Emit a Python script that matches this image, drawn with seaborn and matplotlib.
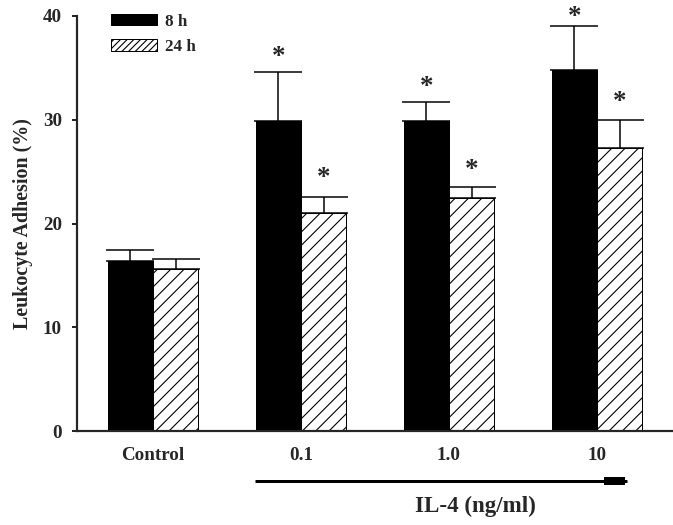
import numpy as np
import pandas as pd
import seaborn as sns
import matplotlib.pyplot as plt
from matplotlib.patches import Patch

# values
doses = ["Control", "0.1", "1.0", "10"]
times = ["8 h", "24 h"]
mean_8h = [16.4, 29.9, 29.9, 34.8]
sem_8h = [1.0, 4.7, 1.8, 4.2]
mean_24h = [15.6, 21.0, 22.5, 27.3]
sem_24h = [1.0, 1.6, 1.0, 2.7]
star_8h = [False, True, True, True]
star_24h = [False, True, True, True]

DPI = 80
PT = 72 / DPI  # px -> pt

df = pd.DataFrame({
    "dose": doses * 2,
    "time": ["8 h"] * 4 + ["24 h"] * 4,
    "value": mean_8h + mean_24h,
})

sns.set_theme(style="ticks")
plt.rcParams["font.family"] = ["Liberation Serif", "DejaVu Serif"]
plt.rcParams["hatch.linewidth"] = 1.0

fig = plt.figure(figsize=(673 / DPI, 525 / DPI), dpi=DPI)
ax = fig.add_axes([77 / 673, 94 / 525, 596 / 673, 415 / 525])

sns.barplot(data=df, x="dose", y="value", hue="time", order=doses, hue_order=times,
            palette={"8 h": "black", "24 h": "white"}, edgecolor="black", linewidth=1 * PT,
            width=0.61, errorbar=None, legend=False, ax=ax)

for bar in ax.containers[1]:
    bar.set_hatch("//")

# error bars (upper only) and significance stars
for cont, means, errs, stars, gaps in [
    (ax.containers[0], mean_8h, sem_8h, star_8h, [15, 15, 15, 9]),
    (ax.containers[1], mean_24h, sem_24h, star_24h, [16, 18, 17, 17]),
]:
    xs = [b.get_x() + b.get_width() / 2 for b in cont]
    ax.errorbar(xs, means, yerr=[np.zeros(len(means)), errs], fmt="none",
                ecolor="black", elinewidth=1.5 * PT, capsize=24 * PT,
                capthick=1.5 * PT, clip_on=False, zorder=3)
    for x, m, e, s, g in zip(xs, means, errs, stars, gaps):
        if s:
            ax.annotate("*", (x, m + e), xytext=(0, g * PT), textcoords="offset points",
                        ha="center", va="center", fontsize=27 * PT, fontweight="bold",
                        annotation_clip=False)

ax.set_xlim(-0.514, 3.514)
ax.set_ylim(0, 40)
ax.set_yticks([0, 10, 20, 30, 40])
ax.set_xlabel("")
ax.set_ylabel("Leukocyte Adhesion (%)", fontsize=20 * PT, fontweight="bold", labelpad=10 * PT)
ax.tick_params(axis="y", direction="out", length=5 * PT, width=2 * PT, pad=10 * PT,
               labelsize=19 * PT)
ax.tick_params(axis="x", length=0, pad=16 * PT, labelsize=19 * PT)
for lab in ax.get_xticklabels() + ax.get_yticklabels():
    lab.set_fontweight("bold")

sns.despine(ax=ax)
ax.spines["left"].set_linewidth(2.2 * PT)
ax.spines["bottom"].set_linewidth(2.2 * PT)

# IL-4 bracket line with thick end
ax.plot([0.69, 3.20], [-4.8, -4.8], color="black", lw=3 * PT, clip_on=False,
        solid_capstyle="butt")
ax.plot([3.05, 3.19], [-4.8, -4.8], color="black", lw=8 * PT, clip_on=False,
        solid_capstyle="butt")
ax.text(2.18, -7.25, "IL-4 (ng/ml)", ha="center", va="center", fontsize=23 * PT,
        fontweight="bold")

handles = [Patch(facecolor="black", edgecolor="black", linewidth=1 * PT),
           Patch(facecolor="white", edgecolor="black", hatch="////", linewidth=1 * PT)]
ax.legend(handles, times, loc="upper left", bbox_to_anchor=(0.057, 1.006),
          frameon=False, borderpad=0, borderaxespad=0, handlelength=2.7,
          handleheight=0.65, handletextpad=0.5, labelspacing=0.55,
          prop={"size": 17 * PT, "weight": "bold"})

fig.savefig("out.png", dpi=DPI)
